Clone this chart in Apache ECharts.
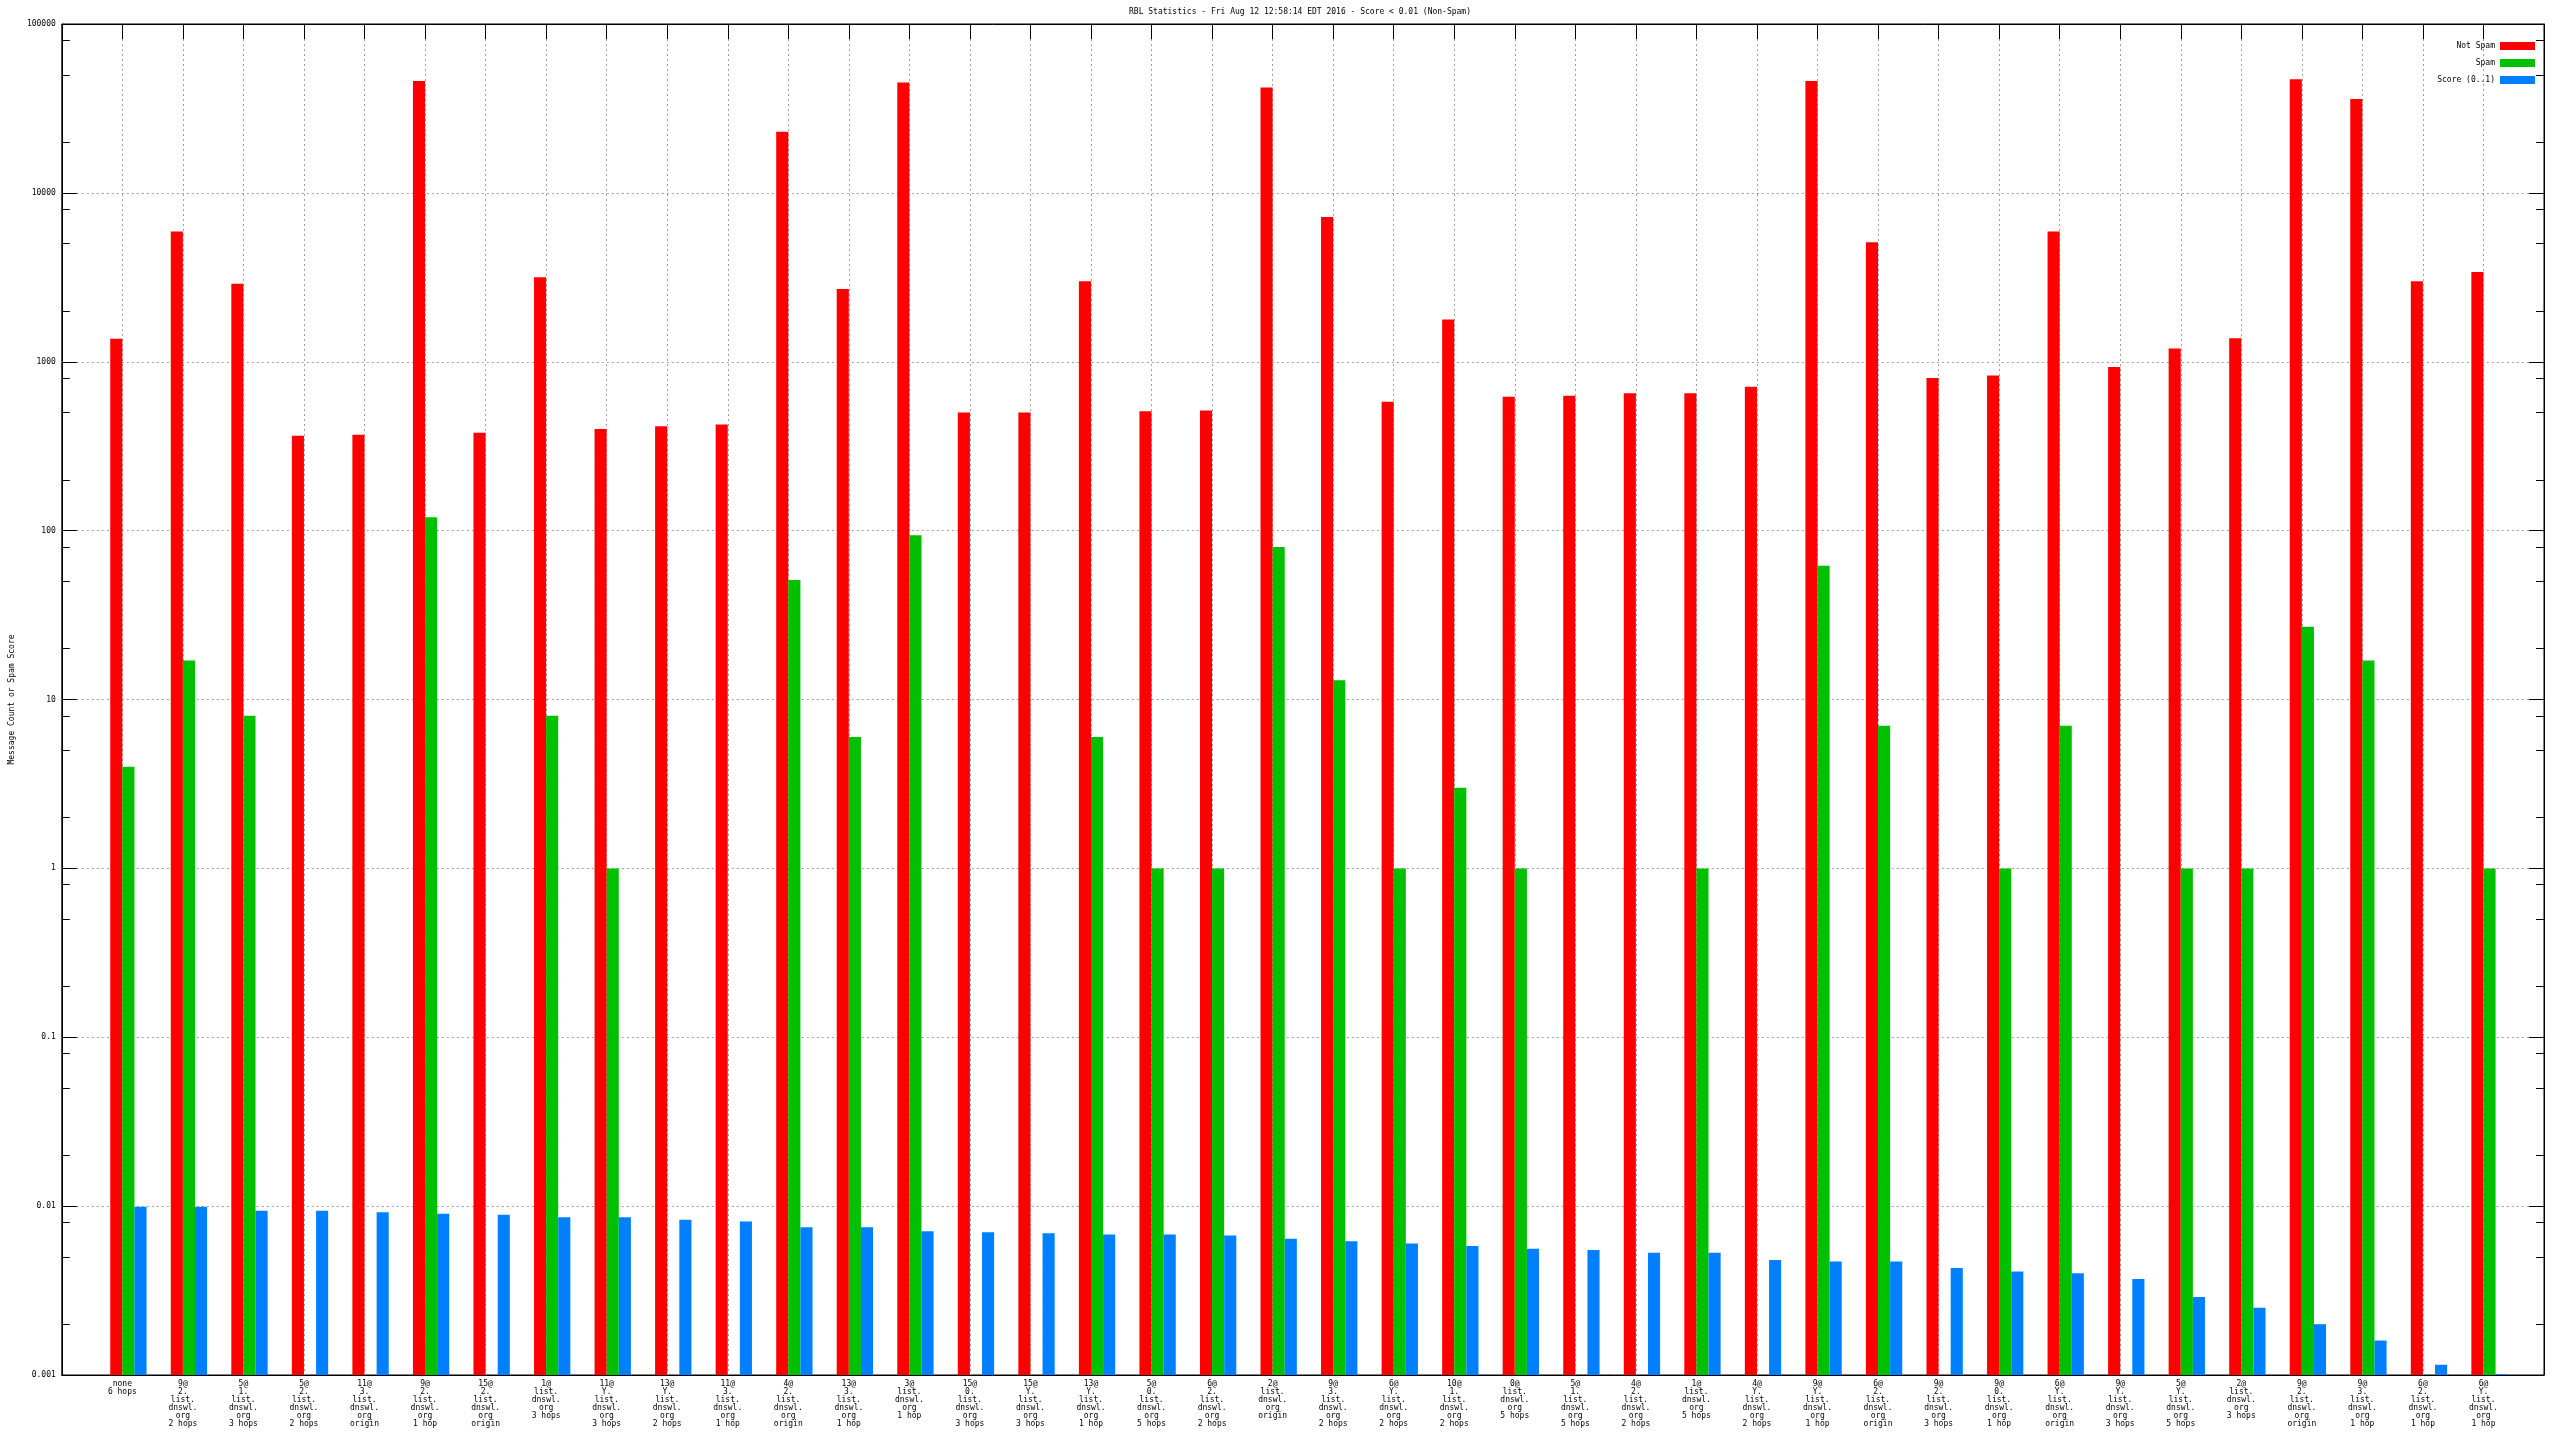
<!DOCTYPE html>
<html><head><meta charset="utf-8">
<script src="https://cdn.jsdelivr.net/npm/echarts@6/dist/echarts.min.js"></script>
<style>html,body{margin:0;padding:0;background:#fff}#c{width:2560px;height:1440px}</style>
</head><body><div id="c"></div>
<script>
const categories = [
 'none\n6 hops',
 '9@\n2.\nlist.\ndnswl.\norg\n2 hops',
 '5@\n1.\nlist.\ndnswl.\norg\n3 hops',
 '5@\n2.\nlist.\ndnswl.\norg\n2 hops',
 '11@\n3.\nlist.\ndnswl.\norg\norigin',
 '9@\n2.\nlist.\ndnswl.\norg\n1 hop',
 '15@\n2.\nlist.\ndnswl.\norg\norigin',
 '1@\nlist.\ndnswl.\norg\n3 hops',
 '11@\nY.\nlist.\ndnswl.\norg\n3 hops',
 '13@\nY.\nlist.\ndnswl.\norg\n2 hops',
 '11@\n3.\nlist.\ndnswl.\norg\n1 hop',
 '4@\n2.\nlist.\ndnswl.\norg\norigin',
 '13@\n3.\nlist.\ndnswl.\norg\n1 hop',
 '3@\nlist.\ndnswl.\norg\n1 hop',
 '15@\n0.\nlist.\ndnswl.\norg\n3 hops',
 '15@\nY.\nlist.\ndnswl.\norg\n3 hops',
 '13@\nY.\nlist.\ndnswl.\norg\n1 hop',
 '5@\n0.\nlist.\ndnswl.\norg\n5 hops',
 '6@\n2.\nlist.\ndnswl.\norg\n2 hops',
 '2@\nlist.\ndnswl.\norg\norigin',
 '9@\n3.\nlist.\ndnswl.\norg\n2 hops',
 '6@\nY.\nlist.\ndnswl.\norg\n2 hops',
 '10@\n1.\nlist.\ndnswl.\norg\n2 hops',
 '0@\nlist.\ndnswl.\norg\n5 hops',
 '5@\n1.\nlist.\ndnswl.\norg\n5 hops',
 '4@\n2.\nlist.\ndnswl.\norg\n2 hops',
 '1@\nlist.\ndnswl.\norg\n5 hops',
 '4@\nY.\nlist.\ndnswl.\norg\n2 hops',
 '9@\nY.\nlist.\ndnswl.\norg\n1 hop',
 '6@\n2.\nlist.\ndnswl.\norg\norigin',
 '9@\n2.\nlist.\ndnswl.\norg\n3 hops',
 '9@\n0.\nlist.\ndnswl.\norg\n1 hop',
 '6@\nY.\nlist.\ndnswl.\norg\norigin',
 '9@\nY.\nlist.\ndnswl.\norg\n3 hops',
 '5@\nY.\nlist.\ndnswl.\norg\n5 hops',
 '2@\nlist.\ndnswl.\norg\n3 hops',
 '9@\n2.\nlist.\ndnswl.\norg\norigin',
 '9@\n3.\nlist.\ndnswl.\norg\n1 hop',
 '6@\n2.\nlist.\ndnswl.\norg\n1 hop',
 '6@\nY.\nlist.\ndnswl.\norg\n1 hop'
];
const notSpam = [1370, 5900, 2900, 365, 370, 46000, 380, 3170, 400, 415,
 425, 23000, 2700, 45000, 500, 500, 3000, 510, 515, 42000,
 7200, 580, 1780, 620, 630, 650, 650, 710, 46000, 5100,
 800, 830, 5900, 930, 1200, 1380, 47000, 36000, 3000, 3400];
const spam = [4, 17, 8, null, null, 120, null, 8, 1, null,
 null, 51, 6, 94, null, null, 6, 1, 1, 80,
 13, 1, 3, 1, null, null, 1, null, 62, 7,
 null, 1, 7, null, 1, 1, 27, 17, null, 1];
const score = [0.0099, 0.0099, 0.0094, 0.0094, 0.0092, 0.0090, 0.0089, 0.0086, 0.0086, 0.0083,
 0.0081, 0.0075, 0.0075, 0.0071, 0.0070, 0.0069, 0.0068, 0.0068, 0.0067, 0.0064,
 0.0062, 0.0060, 0.0058, 0.0056, 0.0055, 0.0053, 0.0053, 0.0048, 0.0047, 0.0047,
 0.0043, 0.0041, 0.0040, 0.0037, 0.0029, 0.0025, 0.0020, 0.0016, 0.00115, 0.00101];
const seriesNames = ['Not Spam', 'Spam', 'Score (0..1)'];
const yTickLabels = ['0.001', '0.01', '0.1', '1', '10', '100', '1000', '10000', '100000'];
const minorTickValues = [0.002, 0.005, 0.008, 0.02, 0.05, 0.08, 0.2, 0.5, 0.8, 2, 5, 8,
 20, 50, 80, 200, 500, 800, 2000, 5000, 8000, 20000, 50000, 80000];

const Y_MIN = 0.001, Y_MAX = 100000;
const FONT = 'DejaVu Sans Mono';
const BAR_FRAC = 0.2;
const colors = ['#ff0000', '#00c000', '#0080ff'];
const offsets = [-1, 0, 1];
const values = [notSpam, spam, score];
const axisCats = [''].concat(categories, ['']);

function makeSeries(si) {
  const data = [];
  values[si].forEach((v, i) => { if (v != null) data.push([i + 1, v]); });
  const k = offsets[si];
  return {
    name: seriesNames[si], type: 'custom', xAxisIndex: 0, yAxisIndex: 0,
    itemStyle: { color: colors[si] },
    encode: { x: 0, y: 1 },
    data: data,
    renderItem: function (params, api) {
      const i = api.value(0), v = api.value(1);
      const p = api.coord([i, v]);
      const p0 = api.coord([i, Y_MIN]);
      const p1 = api.coord([i + 1, Y_MIN]);
      const bw = (p1[0] - p0[0]) * BAR_FRAC;
      return { type: 'rect', shape: { x: p[0] + k * bw, y: p[1], width: bw, height: p0[1] - p[1] },
        style: { fill: colors[si] } };
    }
  };
}

const gridLine = { show: true, lineStyle: { color: '#a0a0a0', type: [2, 3], width: 1 } };
const txt = { fontFamily: FONT, fontSize: 8, color: '#000' };

const chart = echarts.init(document.getElementById('c'), null, { renderer: 'canvas' });
chart.setOption({
  animation: false,
  backgroundColor: '#fff',
  title: { text: 'RBL Statistics - Fri Aug 12 12:58:14 EDT 2016 - Score < 0.01 (Non-Spam)',
    left: 1300, top: 8, textAlign: 'center', padding: 0,
    textStyle: Object.assign({ fontWeight: 'normal' }, txt) },
  legend: { orient: 'vertical', right: 25, top: 42, align: 'right', itemWidth: 35, itemHeight: 8,
    itemGap: 9, icon: 'rect', padding: 0, data: seriesNames, textStyle: txt },
  grid: { left: 55, right: 16, top: 24, bottom: 65, show: true, borderColor: '#000', borderWidth: 1 },
  xAxis: [
    { type: 'category', data: axisCats, boundaryGap: false, position: 'bottom',
      axisLine: { onZero: false, lineStyle: { color: '#000' } }, axisTick: { show: false },
      axisLabel: Object.assign({ interval: 0, lineHeight: 8, margin: 5 }, txt),
      splitLine: Object.assign({ interval: 0 }, gridLine) },
    { type: 'category', data: axisCats, boundaryGap: false, position: 'top',
      axisLine: { show: true, onZero: false, lineStyle: { color: '#000' } },
      axisTick: { show: true, inside: true, length: 15, interval: 0, lineStyle: { color: '#000' } },
      axisLabel: { show: false }, splitLine: { show: false } }
  ],
  yAxis: [
    { type: 'log', logBase: 10, min: Y_MIN, max: Y_MAX, position: 'left',
      name: 'Message Count or Spam Score', nameLocation: 'middle', nameGap: 44,
      nameTextStyle: txt,
      axisLine: { show: true, onZero: false, lineStyle: { color: '#000' } },
      axisTick: { show: true, inside: true, length: 15, lineStyle: { color: '#000' } },
      axisLabel: Object.assign({ margin: 6, formatter: function (v) {
        return yTickLabels[Math.round(Math.log10(v)) + 3]; } }, txt),
      splitLine: gridLine },
    { type: 'value', min: -3, max: 5, position: 'left',
      axisLine: { show: false, onZero: false },
      axisTick: { show: true, inside: true, length: 8, lineStyle: { color: '#000' },
        customValues: minorTickValues.map(Math.log10) },
      axisLabel: { show: false }, splitLine: { show: false } },
    { type: 'log', logBase: 10, min: Y_MIN, max: Y_MAX, position: 'right',
      axisLine: { show: true, onZero: false, lineStyle: { color: '#000' } },
      axisTick: { show: true, inside: true, length: 15, lineStyle: { color: '#000' } },
      axisLabel: { show: false }, splitLine: { show: false } },
    { type: 'value', min: -3, max: 5, position: 'right',
      axisLine: { show: false, onZero: false },
      axisTick: { show: true, inside: true, length: 8, lineStyle: { color: '#000' },
        customValues: minorTickValues.map(Math.log10) },
      axisLabel: { show: false }, splitLine: { show: false } }
  ],
  series: [makeSeries(0), makeSeries(1), makeSeries(2)]
});
</script>
</body></html>
